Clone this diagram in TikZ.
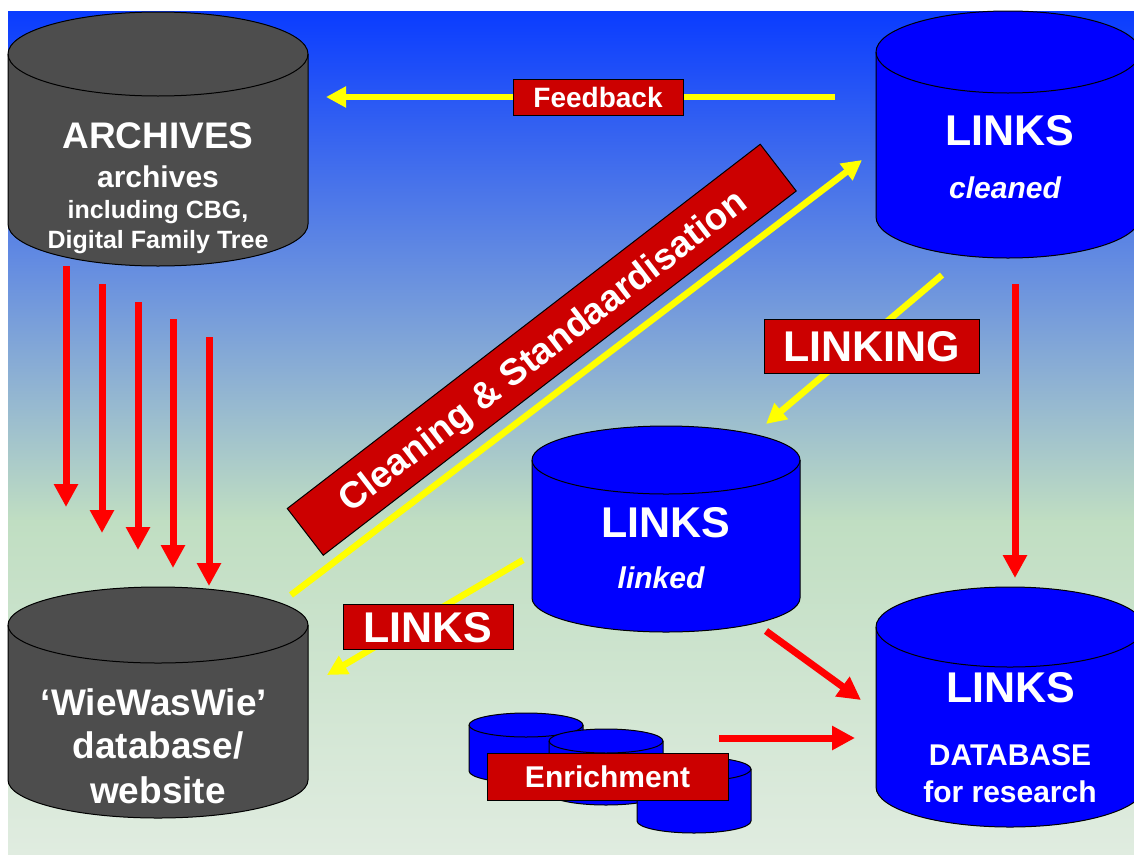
\documentclass[tikz,border=0pt]{standalone}
\usepackage{fontspec}
\setmainfont{Liberation Sans}
\usetikzlibrary{arrows.meta}
\definecolor{bgtop}{HTML}{0A3CFF}
\definecolor{bgmid}{HTML}{C0DEC2}
\definecolor{bgbot}{HTML}{E0ECE0}
\definecolor{dbgray}{HTML}{4D4D4D}
\definecolor{dbblue}{HTML}{0000FF}
\definecolor{lblred}{HTML}{CC0000}
\definecolor{arrred}{HTML}{FF0000}
\definecolor{arryel}{HTML}{FFFF00}
% cylinder: cx, ytop, ybot, rx, ry, colour
\newcommand\dbcyl[6]{%
  \filldraw[fill=#6, draw=black, line width=1pt]
    (#1-#4,#2) -- (#1-#4,#3)
    arc[start angle=180,end angle=360,x radius=#4pt,y radius=#5pt]
    -- (#1+#4,#2)
    arc[start angle=0,end angle=180,x radius=#4pt,y radius=#5pt] -- cycle;
  \draw[line width=1pt] (#1-#4,#2)
    arc[start angle=180,end angle=360,x radius=#4pt,y radius=#5pt];
}
\newcommand\fs[1]{\fontsize{#1}{#1}\selectfont\bfseries}
\tikzset{
  rarrow/.style={draw=arrred, line width=7pt, -{Triangle[length=23pt,width=23pt]}},
  yarrow/.style={draw=arryel, line width=6.5pt, -{Triangle[length=20pt,width=20pt]}},
  lbl/.style={draw=black, line width=1pt, fill=lblred, text=white, inner sep=0pt, text depth=0pt},
  dbtext/.style={text=white, anchor=base, inner sep=0pt},
}
\begin{document}
\begin{tikzpicture}[x=1pt,y=-1pt]
\useasboundingbox (0,0) rectangle (1134,854);
\fill[white] (0,0) rectangle (1134,854);
% background
\shade[top color=bgtop, bottom color=bgmid] (8,11) rectangle (1134,521);
\shade[top color=bgmid, bottom color=bgbot] (8,520) rectangle (1134,854);

% named anchors for connector ends
\coordinate (a1s) at (66,266);  \coordinate (a1e) at (66,507);
\coordinate (a2s) at (102,284); \coordinate (a2e) at (102,533);
\coordinate (a3s) at (138,302); \coordinate (a3e) at (138,550);
\coordinate (a4s) at (173,319); \coordinate (a4e) at (173,568);
\coordinate (a5s) at (209,337); \coordinate (a5e) at (209,586);
\coordinate (fbS) at (835,97);  \coordinate (fbE) at (326,97);
\coordinate (clS) at (291,595); \coordinate (clE) at (862,160);
\coordinate (lkS) at (942,275); \coordinate (lkE) at (766,424);
\coordinate (lsS) at (523,560); \coordinate (lsE) at (327,675);
\coordinate (cdS) at (1015,284); \coordinate (cdE) at (1015,578);
\coordinate (ldS) at (766,631); \coordinate (ldE) at (861,700);
\coordinate (edS) at (719,738); \coordinate (edE) at (855,738);

% archives -> WieWasWie
\draw[rarrow] (a1s) -- (a1e);
\draw[rarrow] (a2s) -- (a2e);
\draw[rarrow] (a3s) -- (a3e);
\draw[rarrow] (a4s) -- (a4e);
\draw[rarrow] (a5s) -- (a5e);

% cylinders
\dbcyl{158}{54}{224}{150}{42}{dbgray}
\dbcyl{1008}{52}{217}{132}{41}{dbblue}
\dbcyl{666}{460}{598}{134}{34}{dbblue}
\dbcyl{1010}{627}{787}{134}{40}{dbblue}
\dbcyl{158}{625}{780}{150}{38}{dbgray}
\dbcyl{526}{725}{771}{57}{12}{dbblue}
\dbcyl{606}{741}{793}{57}{12}{dbblue}
\dbcyl{694}{769}{821}{57}{12}{dbblue}

% yellow arrows
\draw[yarrow] (fbS) -- (fbE);
\draw[yarrow] (clS) -- (clE);
\draw[yarrow] (lkS) -- (lkE);
\draw[yarrow] (lsS) -- (lsE);

% red arrows
\draw[rarrow] (cdS) -- (cdE);
\draw[rarrow] (ldS) -- (ldE);
\draw[rarrow] (edS) -- (edE);

% labels
\node[lbl, minimum width=170pt, minimum height=36pt, text height=20pt, font=\fs{28}] (feedback) at (598,97) {Feedback};
\node[lbl, minimum width=215pt, minimum height=54pt, text height=31pt, font=\fs{43}] (linking) at (871.5,346) {LINKING};
\node[lbl, minimum width=170pt, minimum height=45pt, text height=31pt, font=\fs{43}] (linkslbl) at (428,626.5) {LINKS};
\node[lbl, minimum width=241pt, minimum height=47pt, text height=21.5pt, font=\fs{30}] (enrich) at (607.5,776.5) {Enrichment};
\node[lbl, rotate=37.6, minimum width=597pt, minimum height=59pt, text height=26.5pt, font=\fs{37}] (clean) at (541.75,349.75) {Cleaning \& Standaardisation};

% cylinder texts
\node[dbtext, font=\fs{37}] (arch1) at (158,148) {ARCHIVES};
\node[dbtext, font=\fs{30}] (arch2) at (158,187) {archives};
\node[dbtext, font=\fs{25}] (arch3) at (158,218) {including CBG,};
\node[dbtext, font=\fs{25}] (arch4) at (158,248) {Digital Family Tree};

\node[dbtext, font=\fs{43}] (cl1) at (1010,145) {LINKS};
\node[dbtext, font=\fs{30}\itshape] (cl2) at (1005,198) {cleaned};

\node[dbtext, font=\fs{43}] (lk1) at (666,537) {LINKS};
\node[dbtext, font=\fs{30}\itshape] (lk2) at (661,588) {linked};

\node[dbtext, font=\fs{43}] (db1) at (1011,702) {LINKS};
\node[dbtext, font=\fs{30}] (db2) at (1010,765) {DATABASE};
\node[dbtext, font=\fs{30}] (db3) at (1010,802) {for research};

\node[dbtext, font=\fs{37}] (ww1) at (154,715) {‘WieWasWie’};
\node[dbtext, font=\fs{37}] (ww2) at (158,758) {database/};
\node[dbtext, font=\fs{37}] (ww3) at (158,803) {website};
\end{tikzpicture}
\end{document}
